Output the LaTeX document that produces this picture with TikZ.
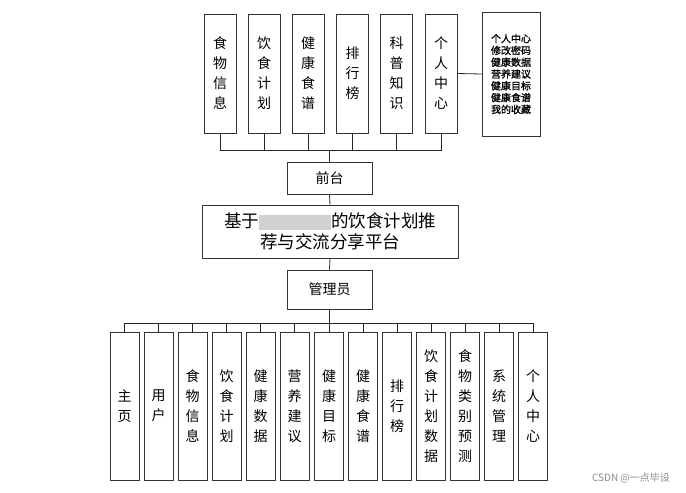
\documentclass[tikz,border=0pt]{standalone}
\usepackage{fontspec}
\setmainfont{Noto Sans CJK SC}
\newfontfamily\boldcjk[FakeBold=1.2]{Noto Sans CJK SC}
\tikzset{
  menubox/.style={draw=black!80, line width=0.8pt, minimum width=32pt, minimum height=119pt,
    inner sep=0pt, align=center, font=\fontsize{14}{20}\selectfont},
  subbox/.style={draw=black!80, line width=0.8pt, minimum width=29pt, minimum height=148pt,
    inner sep=0pt, align=center, font=\fontsize{14}{20}\selectfont},
  midbox/.style={draw=black!80, line width=0.8pt, inner sep=0pt, align=center},
  link/.style={draw=black!85, line width=0.8pt}
}
\begin{document}
\begin{tikzpicture}[x=1pt,y=-1pt]
\useasboundingbox (0,0) rectangle (686,493);

% front-end modules
\node[menubox] (f1) at (220,73.5) {食\\物\\信\\息};
\node[menubox] (f2) at (264,73.5) {饮\\食\\计\\划};
\node[menubox] (f3) at (308,73.5) {健\\康\\食\\谱};
\node[menubox] (f4) at (352.5,73.5) {排\\行\\榜};
\node[menubox] (f5) at (396.5,73.5) {科\\普\\知\\识};
\node[menubox] (f6) at (441,73.5) {个\\人\\中\\心};
\node[midbox, minimum width=58pt, minimum height=124pt,
  font=\boldcjk\fontsize{10}{11.8}\selectfont] (pc) at (511,74)
  {个人中心\\修改密码\\健康数据\\营养建议\\健康目标\\健康食谱\\我的收藏};
\draw[link] (f6.east) -- (pc.west);

% centre
\node[midbox, minimum width=85pt, minimum height=32pt, font=\fontsize{14}{16}\selectfont]
  (qt) at (329.5,178) {前台};
\node[midbox, minimum width=256pt, minimum height=53pt, font=\fontsize{17.5}{21}\selectfont]
  (sys) at (330,231.5)
  {基于\textcolor{black!18}{\rule[-2pt]{72pt}{15pt}}的饮食计划推\\荐与交流分享平台};
\node[midbox, minimum width=85pt, minimum height=39pt, font=\fontsize{14}{16}\selectfont]
  (gly) at (329.5,289.5) {管理员};

\coordinate (tb) at (329.5,150);
\draw[link] (f1.south) |- (tb);
\draw[link] (f2.south) |- (tb);
\draw[link] (f3.south) |- (tb);
\draw[link] (f4.south) |- (tb);
\draw[link] (f5.south) |- (tb);
\draw[link] (f6.south) |- (tb);
\draw[link] (tb) -- (qt.north);
\draw[link] (qt.south) -- (sys.north);
\draw[link] (sys.south) -- (gly.north);

% admin modules
\node[subbox] (a1) at (124.5,406) {主\\页};
\node[subbox] (a2) at (158.5,406) {用\\户};
\node[subbox] (a3) at (192.5,406) {食\\物\\信\\息};
\node[subbox] (a4) at (226.5,406) {饮\\食\\计\\划};
\node[subbox] (a5) at (260.5,406) {健\\康\\数\\据};
\node[subbox] (a6) at (294.5,406) {营\\养\\建\\议};
\node[subbox] (a7) at (329,406) {健\\康\\目\\标};
\node[subbox] (a8) at (363,406) {健\\康\\食\\谱};
\node[subbox] (a9) at (397,406) {排\\行\\榜};
\node[subbox] (a10) at (431,406) {饮\\食\\计\\划\\数\\据};
\node[subbox] (a11) at (465,406) {食\\物\\类\\别\\预\\测};
\node[subbox] (a12) at (499,406) {系\\统\\管\\理};
\node[subbox] (a13) at (533,406) {个\\人\\中\\心};

\coordinate (bb) at (329.5,323);
\draw[link] (gly.south) -- (bb);
\draw[link] (a1.north) |- (bb);
\draw[link] (a2.north) |- (bb);
\draw[link] (a3.north) |- (bb);
\draw[link] (a4.north) |- (bb);
\draw[link] (a5.north) |- (bb);
\draw[link] (a6.north) |- (bb);
\draw[link] (a7.north) |- (bb);
\draw[link] (a8.north) |- (bb);
\draw[link] (a9.north) |- (bb);
\draw[link] (a10.north) |- (bb);
\draw[link] (a11.north) |- (bb);
\draw[link] (a12.north) |- (bb);
\draw[link] (a13.north) |- (bb);

\node[text=black!45, font=\fontsize{10}{12}\selectfont, inner sep=0pt] (wm) at (631,478) {CSDN @一点毕设};
\end{tikzpicture}
\end{document}
